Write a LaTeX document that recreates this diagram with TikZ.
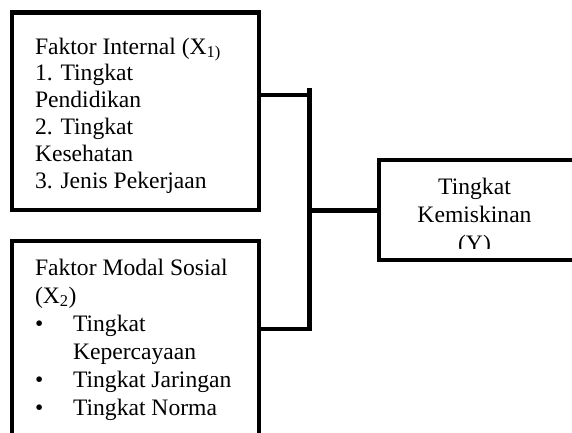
\documentclass[tikz,border=0pt]{standalone}
\usepackage{fontspec}
\setmainfont{Liberation Serif}
\begin{document}
\begin{tikzpicture}[x=1pt,y=-1pt,
  box/.style={draw=black, line width=4.5pt, fill=white, inner sep=0pt, outer sep=0pt},
  conn/.style={draw=black, line width=4.5pt, line join=miter},
  txt/.style={anchor=base west, inner sep=0pt, outer sep=0pt, font=\fontsize{23.6}{27}\selectfont},
  ctxt/.style={anchor=base, inner sep=0pt, outer sep=0pt, font=\fontsize{23.6}{27}\selectfont}]
\useasboundingbox (0,0) rectangle (572,432);
\clip (0,0) rectangle (572,432);
\fill[white] (0,0) rectangle (572,432);
% boxes
\node[box, minimum width=247pt, minimum height=197.5pt] (b1) at (135.5,111.25) {};
\node[box, minimum width=247pt, minimum height=219pt] (b2) at (135.5,350.5) {};
\node[box, minimum width=221pt, minimum height=100pt] (by) at (489.5,210) {};
% connectors
\coordinate (j1) at (309.5,95);
\coordinate (jtop) at (309.5,88);
\coordinate (j2) at (309.5,329);
\coordinate (jm) at (309.5,210.5);
\draw[conn] (b1.east |- j1) -- (j1);
\draw[conn] (b2.east |- j2) -- (j2) -- (jtop);
\draw[conn] (jm) -- (by.west |- jm);
% box 1 text
\node[txt] (a1) at (35,54) {Faktor Internal (X\textsubscript{1)}};
\node[txt] (a2) at (35,80) {1. Tingkat};
\node[txt] (a3) at (35,107) {Pendidikan};
\node[txt] (a4) at (35,134) {2. Tingkat};
\node[txt] (a5) at (35,161) {Kesehatan};
\node[txt] (a6) at (35,188) {3. Jenis Pekerjaan};
% box 2 text
\node[txt] (c1) at (35,275) {Faktor Modal Sosial};
\node[txt] (c2) at (35,303) {(X\textsubscript{2})};
\node[txt] (d1) at (35,331) {•};
\node[txt] (c3) at (73,331) {Tingkat};
\node[txt] (c4) at (73,359) {Kepercayaan};
\node[txt] (d2) at (35,387) {•};
\node[txt] (c5) at (73,387) {Tingkat Jaringan};
\node[txt] (d3) at (35,415) {•};
\node[txt] (c6) at (73,415) {Tingkat Norma};
% box Y text
\begin{scope}
\clip (382,163) rectangle (568,248);
\node[ctxt] (y1) at (474.5,194) {Tingkat};
\node[ctxt] (y2) at (474.5,222) {Kemiskinan};
\node[ctxt] (y3) at (474.5,251) {(Y)};
\end{scope}
\end{tikzpicture}
\end{document}
